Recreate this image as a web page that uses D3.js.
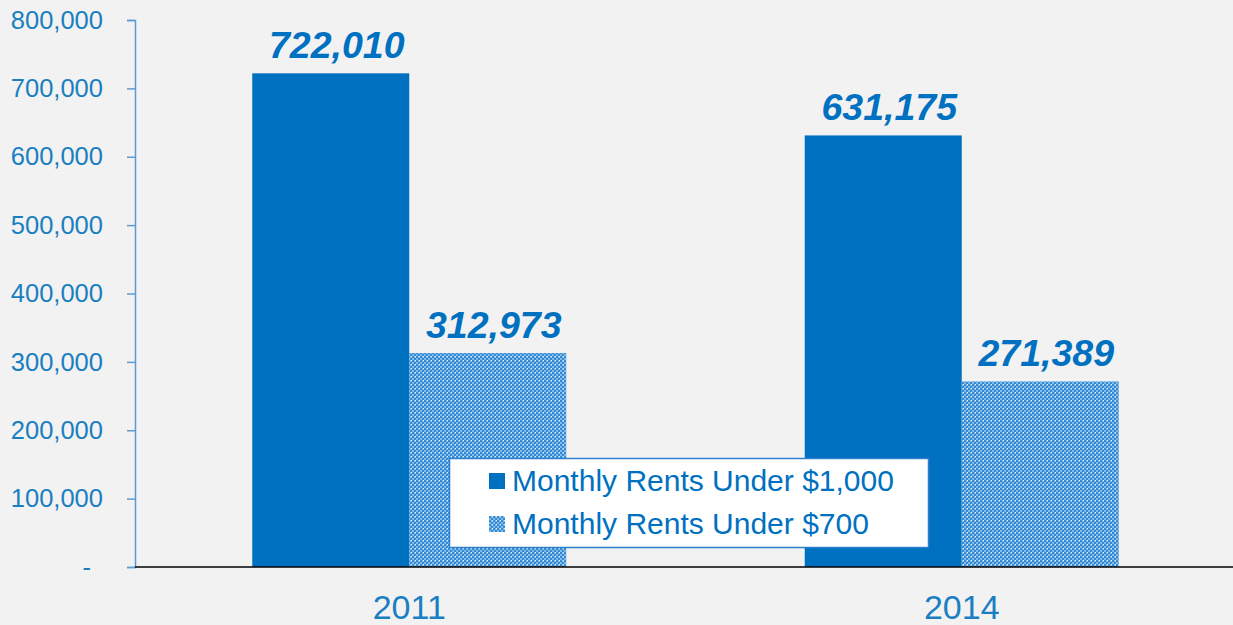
<!DOCTYPE html>
<html>
<head>
<meta charset="utf-8">
<script src="https://cdn.jsdelivr.net/npm/d3@7"></script>
<style>
  body { margin: 0; background: #f2f2f2; }
  svg { display: block; font-family: "Liberation Sans", Arial, sans-serif; }
</style>
</head>
<body>
<script>
// data
var years = ["2011", "2014"];
var seriesNames = ["Monthly Rents Under $1,000", "Monthly Rents Under $700"];
var under1000 = [722010, 631175];
var under700 = [312973, 271389];
var yTicks = [0, 100000, 200000, 300000, 400000, 500000, 600000, 700000, 800000];

var width = 1233, height = 625;
var margin = {top: 20, right: 0, bottom: 58, left: 135};
var blue = "#0070c0";
var textBlue = "#1a7fc1";

var svg = d3.select("body").append("svg")
    .attr("width", width)
    .attr("height", height);

svg.append("rect").attr("width", width).attr("height", height).attr("fill", "#f2f2f2");

// checker pattern for the $700 series
var defs = svg.append("defs");
var pat = defs.append("pattern")
    .attr("id", "check")
    .attr("width", 4).attr("height", 4)
    .attr("patternUnits", "userSpaceOnUse");
pat.append("rect").attr("width", 4).attr("height", 4).attr("fill", "#80bbe8");
pat.append("rect").attr("width", 2).attr("height", 2).attr("fill", "#358bd3");
pat.append("rect").attr("x", 2).attr("y", 2).attr("width", 2).attr("height", 2).attr("fill", "#358bd3");
pat.append("rect").attr("x", 3).attr("y", 0).attr("width", 1).attr("height", 1).attr("fill", "#eef6fd");

var x = d3.scaleBand()
    .domain(years)
    .range([133, 1238]);

var y = d3.scaleLinear()
    .domain([0, 800000])
    .range([height - margin.bottom, margin.top]);

var barW = 157;

// y axis
var yAxis = svg.append("g")
    .attr("transform", "translate(" + margin.left + ",0)")
    .call(d3.axisLeft(y).tickValues(yTicks).tickSize(8).tickPadding(24)
      .tickFormat(d => d === 0 ? "-" : d3.format(",")(d)));
yAxis.select(".domain").attr("stroke", "#5b9bd5").attr("stroke-width", 1.5);
yAxis.selectAll(".tick line").attr("stroke", "#5b9bd5").attr("stroke-width", 1.5);
yAxis.selectAll(".tick text")
    .attr("fill", textBlue)
    .style("font-size", "25.5px");
yAxis.selectAll(".tick").filter(d => d === 0).select("text").attr("dx", -12);

var groups = svg.append("g").selectAll("g")
    .data(years)
    .join("g");

// solid bars
groups.append("rect")
    .attr("x", (d, i) => x(d) + x.bandwidth() / 2 - barW)
    .attr("y", (d, i) => y(under1000[i]))
    .attr("width", barW)
    .attr("height", (d, i) => y(0) - y(under1000[i]))
    .attr("fill", blue);

// patterned bars
groups.append("rect")
    .attr("x", (d, i) => x(d) + x.bandwidth() / 2)
    .attr("y", (d, i) => y(under700[i]))
    .attr("width", barW)
    .attr("height", (d, i) => y(0) - y(under700[i]))
    .attr("fill", "url(#check)");

// value labels (italic, sit a little right of bar centre)
var labelStyle = sel => sel
    .attr("text-anchor", "middle")
    .attr("dx", 6)
    .attr("fill", blue)
    .style("font-size", "37.5px").style("font-weight", "bold").style("font-style", "italic");

groups.append("text")
    .attr("x", (d, i) => x(d) + x.bandwidth() / 2 - barW / 2)
    .attr("y", (d, i) => y(under1000[i]) - 15)
    .call(labelStyle)
    .text((d, i) => d3.format(",")(under1000[i]));

groups.append("text")
    .attr("x", (d, i) => x(d) + x.bandwidth() / 2 + barW / 2)
    .attr("y", (d, i) => y(under700[i]) - 15)
    .call(labelStyle)
    .text((d, i) => d3.format(",")(under700[i]));

// x axis baseline
svg.append("line")
    .attr("x1", margin.left).attr("x2", width)
    .attr("y1", y(0)).attr("y2", y(0))
    .attr("stroke", "#000").attr("stroke-width", 1.5);

svg.append("g").selectAll("text")
    .data(years)
    .join("text")
    .attr("x", d => x(d) + x.bandwidth() / 2)
    .attr("y", y(0) + 52)
    .attr("text-anchor", "middle")
    .attr("fill", textBlue)
    .style("font-size", "34px")
    .text(d => d);

// legend
var legend = svg.append("g").attr("transform", "translate(449,458)");
legend.append("rect")
    .attr("x", 0.5).attr("y", 0.5)
    .attr("width", 479).attr("height", 89)
    .attr("fill", "#fff")
    .attr("stroke", "#2e80cc").attr("stroke-width", 1.5);

var legItems = legend.selectAll("g.item")
    .data(seriesNames)
    .join("g")
    .attr("class", "item")
    .attr("transform", (d, i) => "translate(40," + (23 + i * 43) + ")");

legItems.append("rect")
    .attr("y", -8)
    .attr("width", 16).attr("height", 16)
    .attr("fill", (d, i) => i === 0 ? blue : "url(#check)");

legItems.append("text")
    .attr("x", 23)
    .attr("y", 10)
    .attr("fill", blue)
    .style("font-size", "30px")
    .text(d => d);
</script>
</body>
</html>
